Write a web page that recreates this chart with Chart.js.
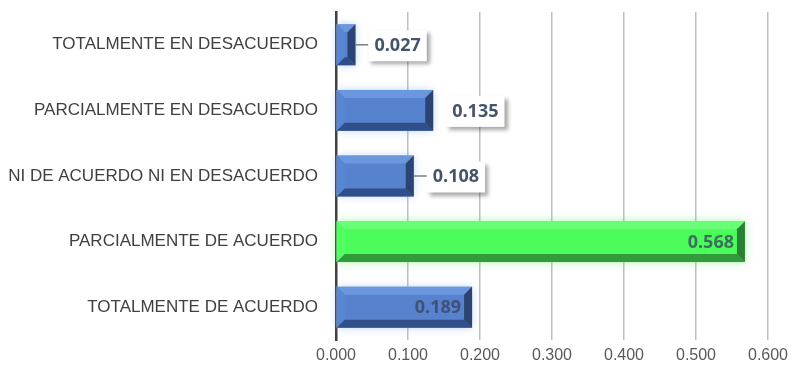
<!DOCTYPE html>
<html>
<head>
<meta charset="utf-8">
<script src="https://cdn.jsdelivr.net/npm/chart.js@4"></script>
<style>
  html, body { margin: 0; padding: 0; background: #fff; }
  #wrap { width: 798px; height: 377px; }
</style>
</head>
<body>
<div id="wrap"><canvas id="chart" width="798" height="377"></canvas></div>
<script>
// data
const categories = [
  "TOTALMENTE EN DESACUERDO",
  "PARCIALMENTE EN DESACUERDO",
  "NI DE ACUERDO NI EN DESACUERDO",
  "PARCIALMENTE DE ACUERDO",
  "TOTALMENTE DE ACUERDO",
];
const values = [0.027, 0.135, 0.108, 0.568, 0.189];
const xTicks = [0, 0.1, 0.2, 0.3, 0.4, 0.5, 0.6];

// label placement: outside with white callout box, or inside end
const labelOutside = [true, true, true, false, false];
const leaderLine = [true, false, true, false, false];

const blue = { face: "#4a79c9", light: "#6d99df", lside: "#5786d4", dark: "#2c4a84", side: "#283f6c", glow: "rgba(110,160,230,0.45)" };
const green = { face: "#3efc4f", light: "#6aff78", lside: "#52ff61", dark: "#2f933a", side: "#2a7632", glow: "rgba(70,240,80,0.5)" };
const palette = values.map((v, i) => (i === 3 ? green : blue));

// bevel bars
const bevelBars = {
  id: "bevelBars",
  afterDatasetsDraw(chart) {
    const ctx = chart.ctx;
    const meta = chart.getDatasetMeta(0);
    meta.data.forEach((bar, i) => {
      const c = palette[i];
      const left = bar.base, right = bar.x;
      const top = bar.y - bar.height / 2, bottom = bar.y + bar.height / 2;
      const b = Math.min(8, (right - left) / 2);
      ctx.save();
      // glow
      ctx.shadowColor = c.glow;
      ctx.shadowBlur = 9;
      ctx.fillStyle = "#ffffff";
      ctx.fillRect(left, top, right - left, bottom - top);
      ctx.restore();
      ctx.save();
      ctx.globalAlpha = 0.93;
      // face
      ctx.fillStyle = c.face;
      ctx.fillRect(left, top, right - left, bottom - top);
      // top bevel
      ctx.fillStyle = c.light;
      ctx.beginPath();
      ctx.moveTo(left, top); ctx.lineTo(right, top);
      ctx.lineTo(right - b, top + b); ctx.lineTo(left + b, top + b);
      ctx.closePath(); ctx.fill();
      // left bevel
      ctx.fillStyle = c.lside;
      ctx.beginPath();
      ctx.moveTo(left, top); ctx.lineTo(left + b, top + b);
      ctx.lineTo(left + b, bottom - b); ctx.lineTo(left, bottom);
      ctx.closePath(); ctx.fill();
      // bottom bevel
      ctx.fillStyle = c.dark;
      ctx.beginPath();
      ctx.moveTo(left, bottom); ctx.lineTo(right, bottom);
      ctx.lineTo(right - b, bottom - b); ctx.lineTo(left + b, bottom - b);
      ctx.closePath(); ctx.fill();
      // right bevel
      ctx.fillStyle = c.side;
      ctx.beginPath();
      ctx.moveTo(right, top); ctx.lineTo(right, bottom);
      ctx.lineTo(right - b, bottom - b); ctx.lineTo(right - b, top + b);
      ctx.closePath(); ctx.fill();
      ctx.restore();
    });
  },
};

// value labels
const valueLabels = {
  id: "valueLabels",
  afterDatasetsDraw(chart) {
    const ctx = chart.ctx;
    const meta = chart.getDatasetMeta(0);
    ctx.save();
    ctx.font = "bold 18px 'Open Sans'";
    ctx.textBaseline = "middle";
    meta.data.forEach((bar, i) => {
      const txt = values[i].toFixed(3);
      const w = ctx.measureText(txt).width;
      if (labelOutside[i]) {
        const bx = bar.x + 13, bw = w + 12, bh = 31;
        const by = bar.y - bh / 2 + 1;
        if (leaderLine[i]) {
          ctx.strokeStyle = "#7f7f7f";
          ctx.lineWidth = 1.5;
          ctx.beginPath();
          ctx.moveTo(bar.x, bar.y); ctx.lineTo(bx, bar.y);
          ctx.stroke();
        }
        ctx.save();
        ctx.shadowColor = "rgba(0,0,0,0.35)";
        ctx.shadowBlur = 4;
        ctx.shadowOffsetX = 3;
        ctx.shadowOffsetY = 3;
        ctx.fillStyle = "#ffffff";
        ctx.fillRect(bx, by, bw, bh);
        ctx.restore();
        ctx.fillStyle = "#44546a";
        ctx.textAlign = "left";
        ctx.fillText(txt, bx + 6, bar.y + 1);
      } else {
        ctx.fillStyle = "rgba(55,65,90,0.75)";
        ctx.textAlign = "right";
        ctx.fillText(txt, bar.x - 11, bar.y + 1);
      }
    });
    ctx.restore();
  },
};

new Chart(document.getElementById("chart"), {
  type: "bar",
  data: {
    labels: categories,
    datasets: [
      {
        data: values,
        backgroundColor: "rgba(0,0,0,0)",
        borderWidth: 0,
        barPercentage: 0.8,
        categoryPercentage: 0.78,
      },
    ],
  },
  options: {
    indexAxis: "y",
    responsive: false,
    animation: false,
    events: [],
    layout: { padding: { top: 12, right: 30, left: 0, bottom: 0 } },
    plugins: { legend: { display: false }, tooltip: { enabled: false } },
    scales: {
      x: {
        min: 0,
        max: 0.6,
        afterBuildTicks(scale) {
          scale.ticks = xTicks.map((v) => ({ value: v }));
        },
        afterFit(scale) { scale.height = 37; },
        ticks: {
          callback: (v) => Number(v).toFixed(3),
          color: "#595959",
          font: { family: "'Liberation Sans'", size: 16 },
          padding: 6,
        },
        grid: { color: "#bfbfbf", lineWidth: 1.5, drawTicks: false },
        border: { display: false },
      },
      y: {
        afterFit(scale) {
          scale.width = 336;
          scale.paddingTop = 0;
          scale.paddingBottom = 0;
        },
        ticks: {
          color: "#404040",
          font: { family: "'Liberation Sans'", size: 17 },
          padding: 18,
        },
        grid: { display: false, drawTicks: false },
        border: { color: "#404040", width: 2.5 },
      },
    },
  },
  plugins: [bevelBars, valueLabels],
});
</script>
</body>
</html>
